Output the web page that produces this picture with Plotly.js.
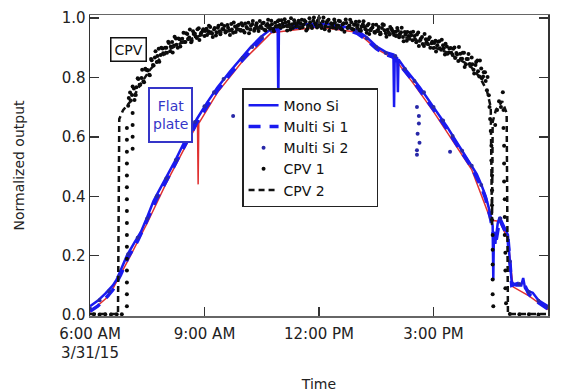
<!DOCTYPE html>
<html>
<head>
<meta charset="utf-8">
<script src="https://cdn.plot.ly/plotly-3.0.1.min.js"></script>
<style>
  html, body { margin: 0; padding: 0; background: #fff; }
  #chart { width: 576px; height: 392px; }
</style>
</head>
<body>
<div id="chart"></div>
<script>
// Normalized output of flat-plate and CPV modules over one day (3/31/15)
const day = '2015-03-31';

// Axis ticks
const xTickTimes = ['06:00', '09:00', '12:00', '15:00', '18:00'];
const xTickLabels = ['6:00 AM<br>3/31/15', '9:00 AM', '12:00 PM', '3:00 PM', '6:00 PM'];
const yTickVals = [0, 0.2, 0.4, 0.6, 0.8, 1.0];
const yTickLabels = ['0.0', '0.2', '0.4', '0.6', '0.8', '1.0'];

// Series names
const seriesNames = ['Mono Si', 'Multi Si 1', 'Multi Si 2', 'CPV 1', 'CPV 2'];

// Mono Si
const monoTime = ['06:00','06:12','06:24','06:36','06:42','06:50','06:58','07:10','07:20','07:30',
  '07:40','07:50','08:00','08:14','08:30','08:48','09:04','09:20','09:40','10:00',
  '10:12','10:28','10:43','10:55','10:56','10:57','11:15','11:40','12:00','12:20',
  '12:33','12:45','13:00','13:15','13:30','13:45','13:55','13:57','13:58','13:59',
  '14:03','14:04','14:05','14:15','14:30','14:39','15:00','15:21','15:40','16:00',
  '16:08','16:15','16:22','16:27','16:29','16:33','16:34','16:35','16:37','16:41',
  '16:44','16:50','16:57','17:00','17:03','17:10','17:18','17:21','17:24','17:30',
  '17:36','17:45','17:55','18:00'];
const monoVal = [0.030,0.048,0.072,0.100,0.120,0.160,0.200,0.245,0.280,0.330,
  0.385,0.425,0.465,0.520,0.590,0.660,0.715,0.765,0.820,0.870,
  0.900,0.935,0.960,0.972,0.720,0.972,0.975,0.980,0.982,0.978,
  0.975,0.968,0.958,0.935,0.905,0.885,0.880,0.877,0.700,0.872,
  0.865,0.750,0.860,0.830,0.790,0.765,0.700,0.635,0.570,0.505,
  0.475,0.440,0.400,0.360,0.340,0.300,0.120,0.280,0.240,0.310,
  0.330,0.300,0.270,0.180,0.110,0.100,0.100,0.125,0.090,0.080,
  0.075,0.050,0.035,0.030];

// Multi Si 1
const multi1Time = ['06:00','06:12','06:24','06:36','06:48','07:00','07:15','07:30','07:45','08:00',
  '08:15','08:30','08:48','09:04','09:20','09:40','10:00','10:15','10:30','10:45',
  '11:00','11:30','12:00','12:30','12:45','13:00','13:15','13:30','13:45','13:57',
  '14:15','14:30','15:00','15:20','15:40','16:00','16:15','16:22','16:30','16:37',
  '16:44','16:57','17:03','17:21','17:30','17:45','18:00'];
const multi1Val = [0.013,0.030,0.055,0.085,0.135,0.195,0.250,0.318,0.392,0.452,
  0.512,0.578,0.648,0.703,0.755,0.810,0.860,0.895,0.930,0.955,
  0.965,0.970,0.974,0.968,0.960,0.948,0.926,0.897,0.877,0.868,
  0.822,0.782,0.692,0.630,0.562,0.497,0.432,0.392,0.322,0.232,
  0.322,0.262,0.100,0.112,0.070,0.042,0.020];

// Multi Si 2: samples along the curve plus scattered low readings
const multi2Time = ['06:00','06:15','06:30','06:45','07:00','07:15','07:30','07:45','08:00','08:15',
  '08:30','08:45','09:00','09:15','09:30','10:00','10:15','10:30','10:45','11:00',
  '11:30','12:00','12:30','13:00','13:15','13:30','13:45','14:00','14:15','14:30',
  '14:45','15:00','15:15','15:30','15:45','16:00','16:15','16:30','16:45','17:00',
  '17:15','17:30','17:45','18:00'];
const multi2Val = [0.022,0.050,0.080,0.130,0.205,0.260,0.325,0.400,0.460,0.522,
  0.588,0.650,0.703,0.750,0.795,0.866,0.902,0.935,0.958,0.970,
  0.976,0.980,0.974,0.955,0.932,0.902,0.882,0.872,0.828,0.788,
  0.750,0.700,0.655,0.603,0.553,0.503,0.438,0.328,0.325,0.180,
  0.105,0.078,0.048,0.028];
const multi2LowTime = ['09:45','14:34','14:37','14:37','14:35','14:38','14:34','14:34','15:26'];
const multi2LowVal = [0.670,0.700,0.670,0.645,0.610,0.580,0.555,0.540,0.550];

// Second flat-plate record drawn beneath the blue traces
const refTime = ['06:00','06:30','07:00','07:30','08:00','08:30','08:49','08:50','08:51','09:20',
  '10:00','10:45','12:00','13:00','13:30','14:00','14:30','15:00','15:40','16:00',
  '16:30','16:44','16:57','17:05','17:30','18:00'];
const refVal = [0.010,0.065,0.185,0.310,0.445,0.570,0.645,0.440,0.645,0.748,
  0.855,0.950,0.970,0.952,0.897,0.860,0.775,0.685,0.555,0.490,
  0.320,0.315,0.255,0.095,0.065,0.018];

// CPV 1: morning turn-on
const cpv1RiseTime = ['06:06','06:15','06:24','06:33','06:42','06:50',
  '06:58','06:58','06:58','06:58','06:58','06:58','06:58','06:58','06:58','06:58',
  '06:58','06:58','06:58','06:58','06:58','06:58','07:07','07:07','07:07','07:07'];
const cpv1RiseVal = [0.003,0.002,0.003,0.002,0.003,0.003,
  0.03,0.07,0.11,0.15,0.19,0.23,0.27,0.31,0.35,0.39,
  0.43,0.47,0.51,0.55,0.59,0.63,0.56,0.60,0.64,0.68];

// CPV 1: daytime readings, first pass (minutes after midnight)
const cpv1DayMin = [420,423,426,429,432,435,438,441,444,447,
  450,453,456,459,462,465,468,471,474,477,
  480,483,486,489,492,495,498,501,504,507,
  510,513,516,519,522,525,528,531,534,537,
  540,543,546,549,552,555,558,561,564,567,
  570,573,576,579,582,585,588,591,594,597,
  600,603,606,609,612,615,618,621,624,627,
  630,633,636,639,642,645,648,651,654,657,
  660,663,666,669,672,675,678,681,684,687,
  690,693,696,699,702,705,708,711,714,717,
  720,723,726,729,732,735,738,741,744,747,
  750,753,756,759,762,765,768,771,774,777,
  780,783,786,789,792,795,798,801,804,807,
  810,813,816,819,822,825,828,831,834,837,
  840,843,846,849,852,855,858,861,864,867,
  870,873,876,879,882,885,888,891,894,897,
  900,903,906,909,912,915,918,921,924,927,
  930,933,936,939,942,945,948,951,954,957,
  960,963,966,969,972,975,978,981,984];
const cpv1DayVal = [0.705,0.749,0.741,0.763,0.741,0.797,0.775,0.798,0.787,0.829,
  0.825,0.809,0.862,0.842,0.867,0.852,0.896,0.875,0.897,0.880,
  0.900,0.920,0.888,0.919,0.907,0.931,0.900,0.928,0.918,0.950,
  0.919,0.946,0.934,0.918,0.955,0.947,0.933,0.965,0.946,0.956,
  0.939,0.964,0.955,0.970,0.948,0.961,0.941,0.967,0.955,0.979,
  0.961,0.951,0.976,0.958,0.980,0.950,0.971,0.963,0.977,0.957,
  0.975,0.951,0.970,0.984,0.961,0.979,0.957,0.975,0.966,0.990,
  0.966,0.984,0.958,0.980,0.973,0.991,0.963,0.984,0.973,0.992,
  0.967,0.981,0.996,0.973,0.987,0.961,0.979,0.992,0.971,0.985,
  0.966,0.994,0.978,0.987,0.964,0.999,0.973,0.991,0.982,0.968,
  1.000,0.975,0.989,0.962,0.985,0.994,0.969,0.979,0.995,0.964,
  0.975,0.989,0.961,0.982,0.995,0.966,0.975,0.986,0.961,0.977,
  0.967,0.988,0.957,0.979,0.970,0.950,0.980,0.959,0.968,0.953,
  0.977,0.960,0.945,0.966,0.976,0.949,0.960,0.944,0.964,0.950,
  0.954,0.966,0.935,0.952,0.936,0.953,0.923,0.939,0.951,0.925,
  0.939,0.918,0.951,0.925,0.936,0.906,0.928,0.912,0.935,0.915,
  0.899,0.923,0.908,0.922,0.893,0.908,0.877,0.904,0.884,0.899,
  0.876,0.901,0.882,0.855,0.880,0.863,0.883,0.844,0.862,0.845,
  0.867,0.826,0.842,0.857,0.803,0.830,0.803,0.817,0.757];

// CPV 1: daytime readings, second pass (minutes after midnight)
const cpv1Day2Min = [421,424,427,430,433,436,439,442,445,448,
  451,454,457,460,463,466,469,472,475,478,
  481,484,487,490,493,496,499,502,505,508,
  511,514,517,520,523,526,529,532,535,538,
  541,544,547,550,553,556,559,562,565,568,
  571,574,577,580,583,586,589,592,595,598,
  601,604,607,610,613,616,619,622,625,628,
  631,634,637,640,643,646,649,652,655,658,
  661,664,667,670,673,676,679,682,685,688,
  691,694,697,700,703,706,709,712,715,718,
  721,724,727,730,733,736,739,742,745,748,
  751,754,757,760,763,766,769,772,775,778,
  781,784,787,790,793,796,799,802,805,808,
  811,814,817,820,823,826,829,832,835,838,
  841,844,847,850,853,856,859,862,865,868,
  871,874,877,880,883,886,889,892,895,898,
  901,904,907,910,913,916,919,922,925,928,
  931,934,937,940,943,946,949,952,955,958,
  961,964,967,970,973,976,979,982,985];
const cpv1Day2Val = [0.731,0.722,0.769,0.724,0.767,0.795,0.775,0.826,0.784,0.826,
  0.823,0.807,0.858,0.840,0.888,0.872,0.853,0.900,0.881,0.900,
  0.883,0.916,0.904,0.884,0.937,0.910,0.931,0.904,0.930,0.919,
  0.949,0.929,0.961,0.923,0.946,0.938,0.962,0.926,0.950,0.962,
  0.956,0.943,0.974,0.952,0.936,0.966,0.952,0.974,0.945,0.963,
  0.973,0.955,0.967,0.943,0.961,0.985,0.953,0.974,0.960,0.982,
  0.957,0.981,0.965,0.949,0.975,0.990,0.964,0.982,0.956,0.972,
  0.981,0.960,0.975,0.994,0.964,0.979,0.955,0.971,0.989,0.976,
  0.992,0.971,0.985,0.958,0.979,0.999,0.966,0.983,0.976,0.991,
  0.982,0.969,0.992,0.958,0.975,0.986,0.966,1.002,0.977,0.991,
  0.981,0.966,1.002,0.972,0.990,0.957,0.982,0.968,0.985,0.975,
  0.991,0.965,0.979,0.954,0.983,0.970,0.994,0.963,0.977,0.987,
  0.976,0.959,0.971,0.989,0.962,0.975,0.946,0.964,0.977,0.950,
  0.956,0.970,0.947,0.979,0.959,0.937,0.951,0.970,0.958,0.943,
  0.939,0.957,0.945,0.967,0.922,0.944,0.953,0.930,0.942,0.954,
  0.928,0.944,0.906,0.930,0.912,0.946,0.918,0.928,0.900,0.920,
  0.916,0.887,0.920,0.898,0.927,0.898,0.913,0.880,0.897,0.883,
  0.896,0.865,0.877,0.902,0.863,0.883,0.835,0.862,0.879,0.838,
  0.844,0.813,0.852,0.821,0.857,0.797,0.817,0.788,0.801];

// CPV 1: late-afternoon shading and shutdown
const cpv1DropTime = ['16:27','16:28','16:29','16:30','16:31','16:31','16:32','16:32','16:32','16:32',
  '16:33','16:33','16:33','16:33','16:33','16:34','16:37','16:40','16:43','16:46',
  '16:49','16:50','16:50','16:51','16:51','16:51','16:52','16:52','16:52','16:53',
  '16:53','16:53','16:54','17:00','17:15','17:30','17:45'];
const cpv1DropVal = [0.74,0.70,0.66,0.62,0.57,0.52,0.47,0.42,0.37,0.32,
  0.27,0.22,0.17,0.12,0.07,0.03,0.64,0.69,0.72,0.70,
  0.75,0.69,0.63,0.57,0.51,0.45,0.39,0.33,0.27,0.21,
  0.15,0.09,0.04,0.004,0.003,0.003,0.002];

// CPV 2
const cpv2Time = ['06:00','06:44','06:46','06:52','07:06','07:19','07:34','08:01','08:32','09:00',
  '10:00','11:00','12:00','13:00','14:00','14:40','15:20','15:57','16:13','16:24',
  '16:30','16:32','16:33','16:38','16:48','16:55','16:57','18:00'];
const cpv2Val = [0.004,0.004,0.660,0.690,0.725,0.775,0.825,0.890,0.925,0.945,
  0.962,0.970,0.972,0.965,0.945,0.920,0.885,0.840,0.800,0.755,
  0.700,0.300,0.650,0.690,0.720,0.680,0.004,0.004];

function stamp(t) {
  if (typeof t === 'number') {
    const h = Math.floor(t / 60), m = t % 60;
    return day + ' ' + String(h).padStart(2, '0') + ':' + String(m).padStart(2, '0');
  }
  return day + ' ' + t;
}
const toX = arr => arr.map(stamp);
// a little trailing room inside the legend box
const legendName = s => s + '\u00a0\u00a0\u00a0\u00a0\u00a0';

const blue = '#1a1af0';
const traces = [
  { x: toX(refTime), y: refVal, mode: 'lines', line: { color: '#e03030', width: 1.5 },
    showlegend: false, hoverinfo: 'skip' },
  { name: legendName(seriesNames[0]), x: toX(monoTime), y: monoVal, mode: 'lines',
    line: { color: blue, width: 2.5 } },
  { name: legendName(seriesNames[1]), x: toX(multi1Time), y: multi1Val, mode: 'lines',
    line: { color: blue, width: 3.5, dash: '12px,9px' } },
  { name: legendName(seriesNames[2]), x: toX(multi2Time.concat(multi2LowTime)),
    y: multi2Val.concat(multi2LowVal),
    mode: 'markers', marker: { color: '#2828a8', size: 4 } },
  { name: legendName(seriesNames[3]),
    x: toX(cpv1RiseTime).concat(toX(cpv1DayMin), toX(cpv1Day2Min), toX(cpv1DropTime)),
    y: cpv1RiseVal.concat(cpv1DayVal, cpv1Day2Val, cpv1DropVal),
    mode: 'markers', marker: { color: '#0a0a0a', size: 4 } },
  { name: legendName(seriesNames[4]), x: toX(cpv2Time), y: cpv2Val, mode: 'lines',
    line: { color: '#111', width: 2.5, dash: '6px,4px' } }
];

const axisCommon = {
  showline: true, mirror: 'ticks', linewidth: 1.5,
  ticks: 'inside', ticklen: 9, tickwidth: 1.5, tickcolor: '#333',
  showgrid: false, zeroline: false, tickfont: { size: 15 }
};

const layout = {
  width: 576, height: 392,
  margin: { l: 90, r: 28, t: 15, b: 76, pad: 0 },
  paper_bgcolor: '#fff', plot_bgcolor: '#fff',
  font: { family: 'DejaVu Sans, sans-serif', size: 14, color: '#222' },
  showlegend: true,
  legend: {
    x: 0.332, y: 0.757, xanchor: 'left', yanchor: 'top',
    bgcolor: '#fff', bordercolor: '#222', borderwidth: 1.5,
    font: { size: 14, color: '#111' }, itemwidth: 30, traceorder: 'normal'
  },
  xaxis: Object.assign({}, axisCommon, {
    type: 'date', linecolor: '#666',
    range: [stamp('06:00'), stamp('18:00')],
    tickvals: toX(xTickTimes), ticktext: xTickLabels, ticklabelstandoff: 3,
    title: { text: 'Time', font: { size: 14 }, standoff: 24 }
  }),
  yaxis: Object.assign({}, axisCommon, {
    linecolor: '#333',
    range: [-0.003, 1.01],
    tickvals: yTickVals, ticktext: yTickLabels,
    title: { text: 'Normalized output', font: { size: 14 }, standoff: 33 }
  }),
  annotations: [
    { text: 'CPV', xref: 'paper', yref: 'paper', x: 0.083, y: 0.887,
      xanchor: 'center', yanchor: 'middle',
      showarrow: false, font: { size: 14, color: '#111' },
      bgcolor: '#fff', bordercolor: '#111', borderwidth: 1.5, borderpad: 3 },
    { text: 'Flat<br>plate', xref: 'paper', yref: 'paper', x: 0.175, y: 0.668,
      xanchor: 'center', yanchor: 'middle', height: 46,
      showarrow: false, font: { size: 14, color: '#3535c8' },
      bgcolor: '#fff', bordercolor: '#3535c8', borderwidth: 2, borderpad: 3 }
  ]
};

Plotly.newPlot('chart', traces, layout, { displayModeBar: false, staticPlot: true });
</script>
</body>
</html>
